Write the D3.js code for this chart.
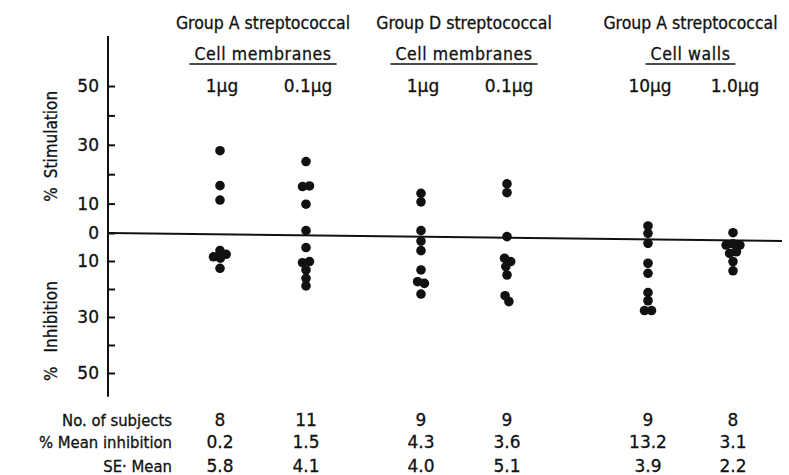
<!DOCTYPE html>
<html>
<head>
<meta charset="utf-8">
<script src="https://cdn.jsdelivr.net/npm/d3@7"></script>
<style>
  body { margin: 0; background: #fff; }
  svg text { font-family: "DejaVu Sans", sans-serif; fill: #111; stroke: #111; stroke-width: 0.3px; }
</style>
</head>
<body>
<svg id="chart"></svg>
<script>
// Scatter of % stimulation / inhibition per streptococcal preparation

// ---- data ----
const groupNames = ['Group A streptococcal', 'Group D streptococcal', 'Group A streptococcal'];
const groupParts = ['Cell membranes', 'Cell membranes', 'Cell walls'];
const doseLabels = ['1µg', '0.1µg', '1µg', '0.1µg', '10µg', '1.0µg'];
const columnGroup = [0, 0, 1, 1, 2, 2];

// positive = % stimulation, negative = % inhibition
const aMem1 = [28, 16.1, 11.2, -6.3, -7.6, -8.5, -9.0, -12.6];
const aMem01 = [24.3, 16, 15.8, 9.8, 0.8, -5.2, -10.2, -10.6, -13.2, -16.2, -18.9];
const dMem1 = [13.5, 10.6, 0.8, -2.9, -6.3, -13.2, -17.4, -18, -21.8];
const dMem01 = [16.7, 13.7, -1.3, -9.0, -10.2, -12.0, -15.0, -22.4, -24.5];
const aWall10 = [2.4, -0.1, -3.7, -10.8, -14.4, -21.3, -24.2, -27.7, -27.7];
const aWall1 = [0.1, -3.9, -4.3, -4.3, -6.7, -7.3, -10.2, -13.5];
const seriesValues = [aMem1, aMem01, dMem1, dMem01, aWall10, aWall1];

const rowLabels = ['No. of subjects', '% Mean inhibition', 'SE· Mean'];
const nSubjects = ['8', '11', '9', '9', '9', '8'];
const meanInhibition = ['0.2', '1.5', '4.3', '3.6', '13.2', '3.1'];
const seMean = ['5.8', '4.1', '4.0', '5.1', '3.9', '2.2'];
const tableRows = [nSubjects, meanInhibition, seMean];

const yTickValues = [50, 40, 30, 20, 10, 0, -10, -20, -30, -40, -50];
const yLabelled = [50, 30, 10, 0, -10, -30, -50];
const axisExtent = [-58.5, 67];

// ---- layout ----
const width = 789;
const height = 475;
const axisX = 108;

const svg = d3.select('#chart')
  .attr('width', width)
  .attr('height', height);

// inhibition half is drawn a little tighter than the stimulation half
const yScale = d3.scaleLinear()
  .domain([-50, 0, 50])
  .range([373, 233, 86]);

const colKeys = d3.range(doseLabels.length);
const xScale = d3.scaleOrdinal()
  .domain(colKeys)
  .range([220, 306, 421, 507, 648, 733]);

// ---- y axis ----
svg.append('line')
  .attr('x1', axisX)
  .attr('x2', axisX)
  .attr('y1', yScale(axisExtent[0]))
  .attr('y2', yScale(axisExtent[1]))
  .style('stroke', '#111')
  .style('stroke-width', '2px');

const yAxis = d3.axisLeft(yScale)
  .tickValues(yTickValues)
  .tickSizeInner(-7)
  .tickSizeOuter(0)
  .tickPadding(9)
  .tickFormat(d => yLabelled.includes(d) ? Math.abs(d) : '');

const yAxisG = svg.append('g')
  .attr('transform', `translate(${axisX},0)`)
  .call(yAxis);

yAxisG.select('.domain').remove();
yAxisG.selectAll('line')
  .style('stroke', '#111')
  .style('stroke-width', '2px');
yAxisG.selectAll('text')
  .style('font-size', '17px')
  .style('font-family', '"DejaVu Sans", sans-serif')
  .style('fill', '#111');

// axis titles
svg.append('text')
  .attr('transform', `translate(51,${yScale(29.5)}) rotate(-90)`)
  .attr('text-anchor', 'middle')
  .attr('dy', '0.35em')
  .style('font-size', '17px')
  .style('font-stretch', 'condensed')
  .style('word-spacing', '4px')
  .text('% Stimulation');

svg.append('text')
  .attr('transform', `translate(51,${yScale(-35)}) rotate(-90)`)
  .attr('text-anchor', 'middle')
  .attr('dy', '0.35em')
  .style('font-size', '17px')
  .style('font-stretch', 'condensed')
  .style('word-spacing', '9px')
  .text('% Inhibition');

// zero line (slightly tilted in the original print)
svg.append('line')
  .attr('x1', axisX)
  .attr('x2', 782)
  .attr('y1', yScale(0))
  .attr('y2', yScale(0))
  .attr('transform', `rotate(0.68,${axisX},${yScale(0)})`)
  .style('stroke', '#111')
  .style('stroke-width', '2px');

// ---- column headers ----
const groups = d3.range(groupNames.length).map(g => {
  const cols = colKeys.filter(c => columnGroup[c] === g);
  return { g, cx: d3.mean(cols, c => xScale(c)) };
});

svg.selectAll('.group-name')
  .data(groups)
  .enter()
  .append('text')
  .attr('class', 'group-name')
  .attr('x', d => d.cx)
  .attr('y', 23)
  .attr('dy', '0.35em')
  .attr('text-anchor', 'middle')
  .style('font-size', '17.5px')
  .style('font-stretch', 'condensed')
  .text(d => groupNames[d.g]);

const parts = svg.selectAll('.group-part')
  .data(groups)
  .enter()
  .append('text')
  .attr('class', 'group-part')
  .attr('x', d => d.cx)
  .attr('y', 54)
  .attr('dy', '0.35em')
  .attr('text-anchor', 'middle')
  .style('font-size', '17.5px')
  .style('font-stretch', 'condensed')
  .style('letter-spacing', '0.6px')
  .text(d => groupParts[d.g]);

parts.each(function(d) {
  const box = this.getBBox();
  svg.append('line')
    .attr('x1', box.x - 5)
    .attr('x2', box.x + box.width + 5)
    .attr('y1', 64)
    .attr('y2', 64)
    .style('stroke', '#111')
    .style('stroke-width', '1.6px');
});

svg.selectAll('.dose')
  .data(colKeys)
  .enter()
  .append('text')
  .attr('class', 'dose')
  .attr('x', c => xScale(c) + 2)
  .attr('y', 86)
  .attr('dy', '0.35em')
  .attr('text-anchor', 'middle')
  .style('font-size', '17px')
  .text(c => doseLabels[c]);

// ---- dots, dodged sideways where they collide ----
const r = 4.8;
const nodes = [];
seriesValues.forEach((vals, c) => {
  vals.forEach(v => {
    nodes.push({ col: c, value: v, x: xScale(c), fy: yScale(v), y: yScale(v) });
  });
});

const sim = d3.forceSimulation(nodes)
  .force('x', d3.forceX(d => xScale(d.col)).strength(0.3))
  .force('collide', d3.forceCollide(3.5))
  .stop();
for (let i = 0; i < 300; i++) sim.tick();

svg.selectAll('.dot')
  .data(nodes)
  .enter()
  .append('circle')
  .attr('class', 'dot')
  .attr('cx', d => d.x)
  .attr('cy', d => d.fy)
  .attr('r', r)
  .style('fill', '#111');

// ---- table under the chart ----
const rowY = [420, 442, 466];

svg.selectAll('.row-label')
  .data(rowLabels)
  .enter()
  .append('text')
  .attr('class', 'row-label')
  .attr('x', 172)
  .attr('y', (d, i) => rowY[i])
  .attr('dy', '0.35em')
  .attr('text-anchor', 'end')
  .style('font-size', '16.5px')
  .style('font-stretch', 'condensed')
  .text(d => d);

tableRows.forEach((row, i) => {
  svg.selectAll(`.cell-${i}`)
    .data(row)
    .enter()
    .append('text')
    .attr('class', `cell-${i}`)
    .attr('x', (d, c) => xScale(c))
    .attr('y', rowY[i])
    .attr('dy', '0.35em')
    .attr('text-anchor', 'middle')
    .style('font-size', '17px')
    .text(d => d);
});
</script>
</body>
</html>
